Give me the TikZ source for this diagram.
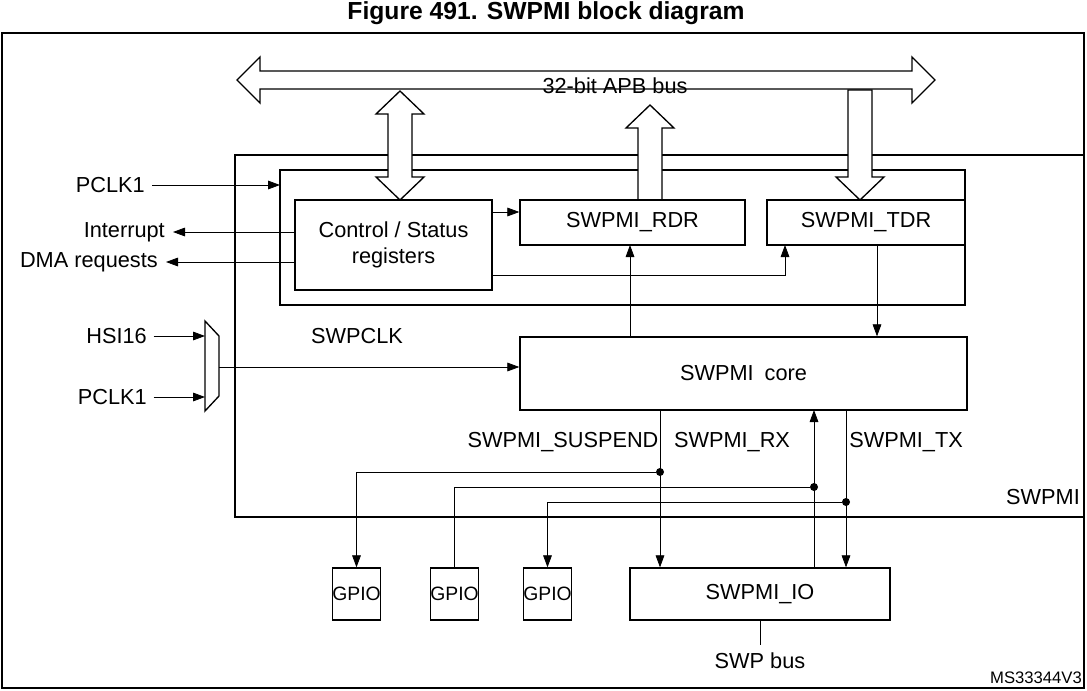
\documentclass[tikz,border=0pt]{standalone}
\usepackage{fontspec}
\setmainfont{Liberation Sans}
\usetikzlibrary{arrows.meta}
\begin{document}
\begin{tikzpicture}[x=0.75pt,y=-0.75pt,
  box/.style={draw,line width=1pt},
  lbl/.style={font=\fontsize{16.3}{18}\selectfont,inner sep=0pt},
  glbl/.style={font=\fontsize{14.5}{16}\selectfont,inner sep=0pt},
  sig/.style={line width=0.6pt,-{Triangle[length=9pt,width=6.5pt]}},
  wire/.style={line width=0.6pt},
  bus/.style={draw,line width=1pt,fill=white},
  dotc/.style={circle,fill,inner sep=0pt,minimum size=6pt}]
\useasboundingbox (0,0) rectangle (1087,690);
\node[font=\bfseries\fontsize{18.5}{20}\selectfont] (title) at (546,13) {Figure 491. SWPMI block diagram};
\draw[line width=1pt] (2,33) rectangle (1084,688);
\draw[box] (235,155) rectangle (1084,517);
\draw[box] (280,170) rectangle (965,305);
% APB bus
\draw[bus] (237,80) -- (260,57) -- (260,71) -- (912,71) -- (912,57) -- (935,80) -- (912,103) -- (912,89) -- (260,89) -- (260,103) -- cycle;
\node[lbl] (apb) at (615,86) {32-bit APB bus};
% vertical bus arrows
\draw[bus] (400,91) -- (424,114) -- (412,114) -- (412,177) -- (424,177) -- (400,200) -- (376,177) -- (388,177) -- (388,114) -- (376,114) -- cycle;
\draw[bus] (650,105) -- (674,128) -- (662,128) -- (662,200) -- (638,200) -- (638,128) -- (626,128) -- cycle;
\draw[bus] (860,200) -- (884,177) -- (872,177) -- (872,90) -- (848,90) -- (848,177) -- (836,177) -- cycle;
% blocks
\node[box,minimum width=197*0.75pt,minimum height=90*0.75pt,lbl,align=center] (cs) at (393.5,245) {Control / Status\\[2pt]registers};
\node[box,minimum width=225*0.75pt,minimum height=45*0.75pt,lbl] (rdr) at (632.5,222.5) {SWPMI\_RDR};
\node[box,minimum width=198*0.75pt,minimum height=45*0.75pt,lbl] (tdr) at (866,222.5) {SWPMI\_TDR};
\node[box,minimum width=447*0.75pt,minimum height=73*0.75pt,lbl] (core) at (743.5,373.5) {SWPMI\enspace core};
\node[box,minimum width=43*0.75pt,minimum height=52*0.75pt,glbl] (g1) at (356.5,594) {GPIO};
\node[box,minimum width=43*0.75pt,minimum height=52*0.75pt,glbl] (g2) at (454.5,594) {GPIO};
\node[box,minimum width=43*0.75pt,minimum height=52*0.75pt,glbl] (g3) at (547.5,594) {GPIO};
\node[box,minimum width=260*0.75pt,minimum height=52*0.75pt,lbl] (io) at (760,594) {SWPMI\_IO};
% left signals
\node[lbl,anchor=east] (pclk) at (145,185) {PCLK1};
\coordinate (pclkE) at (280,185);
\draw[sig] (pclk.east)+(7,0) -- (pclkE);
\node[lbl,anchor=east] (irq) at (165,232) {Interrupt};
\node[lbl,anchor=east] (dma) at (158,262) {DMA requests};
\draw[sig] (cs.west |- irq) -- ([xshift=6pt]irq.east);
\draw[sig] (cs.west |- dma) -- ([xshift=6pt]dma.east);
\draw[sig] (492,212) -- (rdr.west |- 0,212);
\coordinate (tdrB) at (785,245);
\draw[sig] (492,275) -| (tdrB);
\draw[sig] (core.north -| 630,0) -- (630,245);
\draw[sig] (877,245) -- (core.north -| 877,0);
% mux
\draw[line width=1pt] (205,321) -- (219,336) -- (219,396) -- (205,411) -- cycle;
\coordinate (mux) at (219,367);
\node[lbl,anchor=east] (hsi) at (147,336) {HSI16};
\node[lbl,anchor=east] (pclkb) at (147,397) {PCLK1};
\draw[sig] ([xshift=5pt]hsi.east) -- (205,336);
\draw[sig] ([xshift=5pt]pclkb.east) -- (205,397);
\draw[sig] (mux) -- (core.west |- mux);
\node[lbl] (swpclk) at (357,336) {SWPCLK};
% bottom signals
\node[lbl] (lsus) at (563,442) {SWPMI\_SUSPEND};
\node[lbl] (lrx) at (732,442) {SWPMI\_RX};
\node[lbl] (ltx) at (906,442) {SWPMI\_TX};
\node[lbl] (lswpmi) at (1043,497) {SWPMI};
\draw[sig] (660,410) -- (io.north -| 660,0);
\draw[sig] (io.north -| 814,0) -- (814,410);
\draw[sig] (846,410) -- (io.north -| 846,0);
\node[dotc] (d1) at (660,472) {};
\node[dotc] (d2) at (814,487) {};
\node[dotc] (d3) at (846,502) {};
\draw[sig] (d1) -| (g1.north);
\draw[wire] (d2) -| (g2.north);
\draw[sig] (d3) -| (g3.north);
\coordinate (busE) at (760,645);
\draw[wire] (io.south) -- (busE);
\node[lbl] (swp) at (760,661) {SWP bus};
\node[font=\fontsize{12.5}{14}\selectfont,inner sep=0pt] (ms) at (1036,678) {MS33344V3};
\end{tikzpicture}
\end{document}
